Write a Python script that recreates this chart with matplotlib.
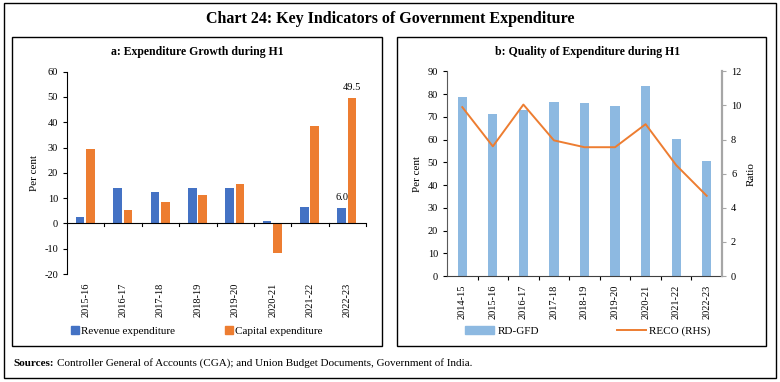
import matplotlib
matplotlib.use("Agg")
import matplotlib.pyplot as plt
import matplotlib.patches as mpatches
from matplotlib.lines import Line2D
import numpy as np

plt.rcParams['font.family'] = ['Liberation Serif', 'DejaVu Serif']
plt.rcParams['axes.unicode_minus'] = False

# panel a data
years_a = ['2015-16', '2016-17', '2017-18', '2018-19', '2019-20', '2020-21', '2021-22', '2022-23']
revenue = [2.5, 14.2, 12.3, 14.0, 14.0, 0.9, 6.3, 6.0]
capital = [29.4, 5.3, 8.6, 11.1, 15.4, -11.6, 38.5, 49.5]

# panel b data
years_b = ['2014-15', '2015-16', '2016-17', '2017-18', '2018-19', '2019-20', '2020-21', '2021-22', '2022-23']
rd_gfd = [78.7, 71.3, 73.2, 76.4, 76.0, 74.6, 83.7, 60.3, 50.4]
reco = [9.9, 7.6, 10.05, 7.95, 7.55, 7.55, 8.9, 6.5, 4.7]

blue = '#4472C4'
orange = '#ED7D31'
lightblue = '#8DB9E1'
grey = '#A6A6A6'

fig = plt.figure(figsize=(7.8, 3.82), dpi=100)
W, H = 780.0, 382.0

def fx(x):
    return x / W

def fy(y):
    return 1 - y / H

# frames
fig.patches.append(mpatches.Rectangle((fx(4), fy(378)), fx(772), 375 / H, transform=fig.transFigure,
                                      fill=False, edgecolor='black', linewidth=1.0))
fig.patches.append(mpatches.Rectangle((fx(12), fy(346)), fx(370), 309 / H, transform=fig.transFigure,
                                      fill=False, edgecolor='black', linewidth=1.0))
fig.patches.append(mpatches.Rectangle((fx(397), fy(346)), fx(369), 309 / H, transform=fig.transFigure,
                                      fill=False, edgecolor='black', linewidth=1.0))

fig.text(0.5, fy(19), 'Chart 24: Key Indicators of Government Expenditure', ha='center', va='center',
         fontsize=11.5, fontweight='bold')
fig.text(fx(197), fy(52), 'a: Expenditure Growth during H1', ha='center', va='center',
         fontsize=8.5, fontweight='bold')
fig.text(fx(588), fy(52), 'b: Quality of Expenditure during H1', ha='center', va='center',
         fontsize=8.5, fontweight='bold')
src = fig.text(fx(13), fy(363), 'Sources:', ha='left', va='center', fontsize=8, fontweight='bold')
fig.canvas.draw()
bb = src.get_window_extent()
fig.text(fx(bb.x1 + 3), fy(363),
         'Controller General of Accounts (CGA); and Union Budget Documents, Government of India.',
         ha='left', va='center', fontsize=8)

# ---- panel a
ax1 = fig.add_axes([fx(67), fy(274), fx(366 - 67), (274 - 71.7) / H])
x = np.arange(len(years_a))
bw = 0.23
ax1.bar(x - 0.15, revenue, width=bw, color=blue)
ax1.bar(x + 0.13, capital, width=bw, color=orange)
ax1.set_xlim(-0.5, len(years_a) - 0.5)
ax1.set_ylim(-20, 60)
ax1.set_yticks(range(-20, 61, 10))
ax1.set_ylabel('Per cent', fontsize=8)
for s in ['top', 'right', 'bottom']:
    ax1.spines[s].set_visible(False)
ax1.axhline(0, color='black', linewidth=0.8)
ax1.set_xticks(x)
ax1.set_xticklabels(years_a, rotation=90, fontsize=7.5)
ax1.tick_params(axis='x', length=0, pad=6)
# tick marks at the group boundaries on the zero line
for b in np.arange(0.5, len(years_a), 1.0):
    ax1.plot([b, b], [0, -1.2], color='black', linewidth=0.8, clip_on=False)
ax1.tick_params(axis='y', labelsize=7.5, length=3, width=0.8)
ax1.text(x[-1] + 0.13, capital[-1] + 2.5, '{:.1f}'.format(capital[-1]), ha='center', va='bottom', fontsize=7.5)
ax1.text(x[-1] - 0.15, revenue[-1] + 2.5, '{:.1f}'.format(revenue[-1]), ha='center', va='bottom', fontsize=7.5)

h1 = [mpatches.Patch(color=blue, label='Revenue expenditure'),
      mpatches.Patch(color=orange, label='Capital expenditure')]
fig.legend(handles=h1, loc='center', bbox_to_anchor=(fx(197), fy(331)), ncol=2, frameon=False,
           fontsize=8, handlelength=0.7, handleheight=0.7, handletextpad=0.2, columnspacing=4.5)

# ---- panel b
ax2 = fig.add_axes([fx(447), fy(276), fx(722 - 447), (276 - 71.3) / H])
xb = np.arange(len(years_b))
ax2.bar(xb, rd_gfd, width=0.3, color=lightblue)
ax2.set_xlim(-0.5, len(years_b) - 0.5)
ax2.set_ylim(0, 90)
ax2.set_yticks(range(0, 91, 10))
ax2.set_ylabel('Per cent', fontsize=8)
ax2.spines['top'].set_visible(False)
ax2.spines['right'].set_visible(False)
ax2.spines['left'].set_color('#595959')
ax2.spines['bottom'].set_color('#404040')
ax2.set_xticks(np.arange(0.5, len(years_b) - 0.5, 1.0), minor=False)
ax2.set_xticklabels([])
ax2.set_xticks(xb, minor=True)
ax2.set_xticklabels(years_b, minor=True, rotation=90, fontsize=7.5)
ax2.tick_params(axis='x', which='minor', length=0, pad=6)
ax2.tick_params(axis='x', which='major', length=3, width=0.8, direction='out')
ax2.tick_params(axis='y', labelsize=7.5, length=3, width=0.8)

ax3 = ax2.twinx()
ax3.plot(xb, reco, color=orange, linewidth=1.4)
ax3.set_ylim(0, 12)
ax3.set_yticks(range(0, 13, 2))
ax3.set_ylabel('Ratio', fontsize=8)
for s in ['top', 'left', 'bottom']:
    ax3.spines[s].set_visible(False)
ax3.spines['right'].set_color(grey)
ax3.spines['right'].set_linewidth(1.6)
ax3.tick_params(axis='y', labelsize=7.5, length=3, width=0.8, color=grey)

h2 = [mpatches.Patch(color=lightblue, label='RD-GFD'),
      Line2D([0], [0], color=orange, linewidth=1.4, label='RECO (RHS)')]
fig.legend(handles=h2, loc='center', bbox_to_anchor=(fx(588), fy(331)), ncol=2, frameon=False,
           fontsize=8, handlelength=2.6, handleheight=0.7, handletextpad=0.3, columnspacing=7)

fig.savefig('out.png', dpi=100)
